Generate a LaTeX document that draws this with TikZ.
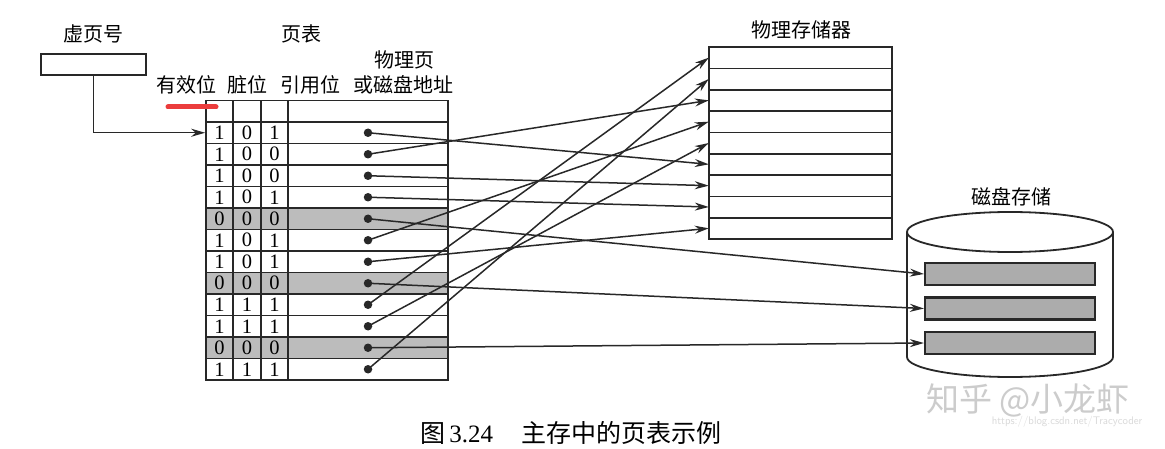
\documentclass[tikz,border=0pt]{standalone}
\usepackage{fontspec}
\setmainfont{Liberation Serif}
\newfontfamily\cjk{Noto Sans CJK SC}
\usetikzlibrary{arrows.meta}
\definecolor{linec}{RGB}{40,40,40}
\definecolor{rowgray}{RGB}{188,188,188}
\definecolor{slotgray}{RGB}{172,172,172}
\definecolor{redmark}{RGB}{235,60,60}
\begin{document}
\begin{tikzpicture}[x=1pt,y=-1pt,
  lbl/.style={font=\cjk\fontsize{20}{22}\selectfont, inner sep=0pt},
  cell/.style={draw=linec, line width=1.6pt, minimum height=21.5pt, inner sep=0pt, font=\fontsize{20.5}{20}\selectfont},
  memrow/.style={minimum width=183pt, minimum height=21.333pt, inner sep=0pt},
  slot/.style={draw=linec, fill=slotgray, line width=2.2pt, minimum width=170pt, minimum height=22pt, inner sep=0pt},
  dotn/.style={circle, fill=linec, inner sep=0pt, minimum size=8.5pt},
  conn/.style={draw=linec, line width=1.5pt, -{Stealth[length=14pt,width=8pt]}},
]
\useasboundingbox[fill=white] (0,0) rectangle (1165,449);

% labels
\node[lbl] (vpl) at (93,34) {虚页号};
\node[lbl] (ptl) at (301,34) {页表};
\node[lbl] (h1) at (186,85) {有效位};
\node[lbl] (h2) at (247,85) {脏位};
\node[lbl] (h3) at (310,85) {引用位};
\node[lbl] (h4a) at (404,60) {物理页};
\node[lbl] (h4b) at (403,85) {或磁盘地址};
\node[lbl] (meml) at (801,30) {物理存储器};
\node[lbl] (diskl) at (1011,197) {磁盘存储};

% virtual page box
\node[draw=linec, line width=1.8pt, minimum width=105pt, minimum height=21pt, inner sep=0pt] (vp) at (93.5,64.5) {};

% page table header row
\node[cell, minimum width=27pt] (h-1) at (219.5,111.25) {};
\node[cell, minimum width=28pt] (h-2) at (247,111.25) {};
\node[cell, minimum width=27pt] (h-3) at (274.5,111.25) {};
\node[cell, minimum width=160pt] (h-4) at (368,111.25) {};

% page table rows
\foreach \i/\a/\b/\c/\s in {1/1/0/1/0, 2/1/0/0/0, 3/1/0/0/0, 4/1/0/1/0, 5/0/0/0/1, 6/1/0/1/0, 7/1/0/1/0, 8/0/0/0/1, 9/1/1/1/0, 10/1/1/1/0, 11/0/0/0/1, 12/1/1/1/0}{
  \pgfmathsetmacro\yy{122+(\i-0.5)*21.5}
  \pgfmathtruncatemacro\pc{\s*100}
  \node[cell, fill=rowgray!\pc!white, minimum width=27pt] (r\i-1) at (219.5,\yy) {\a};
  \node[cell, fill=rowgray!\pc!white, minimum width=28pt] (r\i-2) at (247,\yy) {\b};
  \node[cell, fill=rowgray!\pc!white, minimum width=27pt] (r\i-3) at (274.5,\yy) {\c};
  \node[cell, fill=rowgray!\pc!white, minimum width=160pt] (r\i-4) at (368,\yy) {};
  \node[dotn] (d\i) at (368,\yy) {};
}

% physical memory
\foreach \k in {1,...,9}{
  \pgfmathsetmacro\yy{47+(\k-0.5)*21.333}
  \node[memrow] (m\k) at (800.5,\yy) {};
}
\draw[linec, line width=1.8pt] (m1.north west) rectangle (m9.south east);
\foreach \k in {1,...,8}{
  \draw[linec, line width=1.6pt] (m\k.south west) -- (m\k.south east);
}

% disk
\draw[linec, line width=1.8pt, fill=white] (907,232) -- (907,357) arc[start angle=180, end angle=360, x radius=103pt, y radius=20pt] -- (1113,232);
\draw[linec, line width=1.8pt, fill=white] (1010,232) ellipse [x radius=103pt, y radius=20pt];
\node[slot] (s1) at (1010,274) {};
\node[slot] (s2) at (1010,308.5) {};
\node[slot] (s3) at (1010,343) {};

% connectors
\draw[conn] (vp.south) |- (r1-1.west);
\foreach \a/\b in {1/m6, 2/m3, 3/m7, 4/m8, 5/s1, 6/m4, 7/m9, 8/s2, 9/m1, 10/m5, 11/s3, 12/m2}{
  \draw[conn] (d\a.center) -- (\b.west);
}

% red mark
\draw[redmark, line width=5pt, line cap=round] (168,107) -- (216,107);

% caption
\node[anchor=west, inner sep=0pt, font=\fontsize{25}{27}\selectfont] (cap) at (420,433) {{\cjk 图}\,3.24\hspace{28pt}{\cjk 主存中的页表示例}};

% watermark
\node[inner sep=0pt, font=\cjk\fontsize{33}{33}\selectfont, text=gray!40] (wm) at (1028,400) {知乎 @小龙虾};
\node[inner sep=0pt, font=\sffamily\fontsize{11}{11}\selectfont, text=gray!30] (url) at (1067,422) {https://blog.csdn.net/Tracycoder};
\end{tikzpicture}
\end{document}
